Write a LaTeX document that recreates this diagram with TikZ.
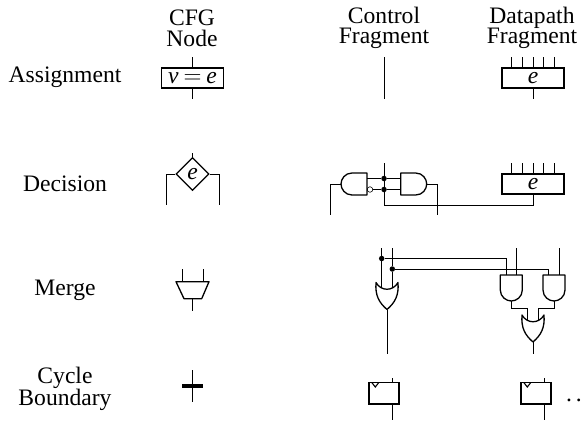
\documentclass[tikz,border=0pt]{standalone}
\usepackage{fontspec}
\setmainfont{Liberation Serif}
\usetikzlibrary{shapes.geometric}

\tikzset{
  wire/.style={line width=0.8pt},
  gate/.style={line width=1.3pt,line join=round},
  lbl/.style={font=\fontsize{23.6}{20.7}\selectfont,align=center,inner sep=0pt},
  opbox/.style={draw,line width=1.5pt,minimum width=62pt,minimum height=20pt,inner sep=0pt,font=\fontsize{23.6}{24}\selectfont\itshape},
  flop/.style={draw,line width=1.5pt,minimum width=30pt,minimum height=21.5pt,inner sep=0pt},
  junction/.style={circle,fill=black,inner sep=0pt,minimum size=5.5pt},
  andgate/.pic={
    \draw[gate] (-11,0) -- (11,0) -- (11,15) .. controls (11,22) and (5,26) .. (0,26)
      .. controls (-5,26) and (-11,22) .. (-11,15) -- cycle;
    \coordinate (-out) at (0,26);
  },
  orgate/.pic={
    \draw[gate] (-11,0) .. controls (-6,9) and (6,9) .. (11,0)
      .. controls (12,13) and (8,20) .. (0,27) .. controls (-8,20) and (-12,13) .. (-11,0) -- cycle;
    \coordinate (-out) at (0,27);
  },
  clock/.pic={
    \draw[line width=1.1pt] (-3.5,0) -- (0,4.5) -- (3.5,0);
  }
}

\begin{document}
\begin{tikzpicture}[x=1pt,y=-1pt]
  \useasboundingbox (0,0) rectangle (581,424);

  % column and row titles
  \node[lbl] (cfgtitle) at (192,28) {CFG\\Node};
  \node[lbl] (controltitle) at (384,28) {Control\\Fragment};
  \node[lbl] (datatitle) at (532,28) {Datapath\\Fragment};
  \node[lbl,anchor=base] (assigntitle) at (65,82.7) {Assignment};
  \node[lbl,anchor=base] (decisiontitle) at (65,191.7) {Decision};
  \node[lbl,anchor=base] (mergetitle) at (65,295) {Merge};
  \node[lbl] (cycletitle) at (65,389) {Cycle\\Boundary};

  % assignment row
  \node[opbox] (assign) at (192.5,78) {v\hspace{5pt}$=$\hspace{5pt}e};
  \coordinate (assigntop) at (192.5,57);
  \coordinate (assignbot) at (192.5,99);
  \draw[wire] (assigntop) -- (assign.north);
  \draw[wire] (assign.south) -- (assignbot);
  \coordinate (ctrltop) at (384,57);
  \coordinate (ctrlbot) at (384,99);
  \draw[wire] (ctrltop) -- (ctrlbot);
  \node[opbox] (datafirst) at (533,78) {e};
  \foreach \x in {511,522,533,543.5,554}
    \draw[wire] (\x,57) -- (\x,68);
  \coordinate (datafirstbot) at (533,99);
  \draw[wire] (datafirst.south) -- (datafirstbot);

  % decision row
  \node[diamond,draw,line width=1.3pt,minimum size=33pt,inner sep=0pt,font=\fontsize{23.6}{24}\selectfont\itshape] (decide) at (192.5,174) {e};
  \coordinate (decidetop) at (192.5,153);
  \coordinate (decideleft) at (166,205);
  \coordinate (decideright) at (219,205);
  \draw[wire] (decidetop) -- (decide.north);
  \draw[wire] (decide.west) -| (decideleft);
  \draw[wire] (decide.east) -| (decideright);

  \pic[rotate=-90] (leftand) at (367,184) {andgate};
  \pic[rotate=90] (rightand) at (400.7,184) {andgate};
  \node[circle,draw,line width=0.6pt,minimum size=5.5pt,inner sep=0pt] (bubble) at (370,189.5) {};
  \node[junction] (ja) at (384,178.5) {};
  \node[junction] (jb) at (384,189.5) {};
  \node[opbox] (datasecond) at (533,184) {e};
  \foreach \x in {511,522,533,543.5,554}
    \draw[wire] (\x,163) -- (\x,174);
  \coordinate (ctrldectop) at (384,163);
  \coordinate (leftfree) at (330.5,215);
  \coordinate (rightfree) at (437,215);
  \draw[wire] (ctrldectop) -- (jb);
  \draw[wire] (367,178.5) -- (ja) -- (400.7,178.5);
  \draw[wire] (bubble) -- (jb) -- (400.7,189.5);
  \draw[wire] (leftand-out) -| (leftfree);
  \draw[wire] (rightand-out) -| (rightfree);
  \draw[wire] (jb) |- (533,205) -- (datasecond.south);

  % merge row
  \coordinate (mergeout) at (192.5,311);
  \draw[gate] (176,281.7) -- (209,281.7) -- (201.7,298.7) -- (184,298.7) -- cycle;
  \foreach \x in {182,203}
    \draw[wire] (\x,269) -- (\x,281.5);
  \draw[wire] (192.5,298.7) -- (mergeout);

  \pic (orctrl) at (387,282.5) {orgate};
  \node[junction] (jc) at (381.7,258.5) {};
  \node[junction] (jd) at (392.3,269) {};
  \coordinate (orctrlend) at (387,353.7);
  \draw[wire] (381.7,248) -- (jc) -- (381.7,288);
  \draw[wire] (392.3,248) -- (jd) -- (392.3,288);
  \draw[wire] (orctrl-out) -- (orctrlend);

  \pic (anda) at (511.3,275) {andgate};
  \pic (andb) at (554,275) {andgate};
  \pic (ordata) at (533,315) {orgate};
  \coordinate (ordataend) at (533,353.7);
  \draw[wire] (jc) -| (506,275);
  \draw[wire] (jd) -| (548.7,275);
  \draw[wire] (516.7,248) -- (516.7,275);
  \draw[wire] (559.3,248) -- (559.3,275);
  \draw[wire] (anda-out) |- (527.7,308.7) -- (527.7,320.5);
  \draw[wire] (andb-out) |- (538.3,308.7) -- (538.3,320.5);
  \draw[wire] (ordata-out) -- (ordataend);

  % cycle boundary row
  \coordinate (barleft) at (182,385.7);
  \coordinate (barright) at (203,385.7);
  \coordinate (bartop) at (192.5,370);
  \coordinate (barbot) at (192.5,402);
  \draw[line width=4pt] (barleft) -- (barright);
  \draw[wire] (bartop) -- (barbot);

  \foreach \name/\x/\stem in {flopa/384/392.3,flopb/536/544}{
    \node[flop] (\name) at (\x,393.2) {};
    \draw[wire] (\stem,378) -- (\stem,382.4);
    \draw[wire] (\stem,404) -- (\stem,420);
    \pic at (\x-8.7,382.5) {clock};
  }
  \node[lbl,anchor=base] (more) at (574,401) {.\hspace{4pt}.};
\end{tikzpicture}
\end{document}
